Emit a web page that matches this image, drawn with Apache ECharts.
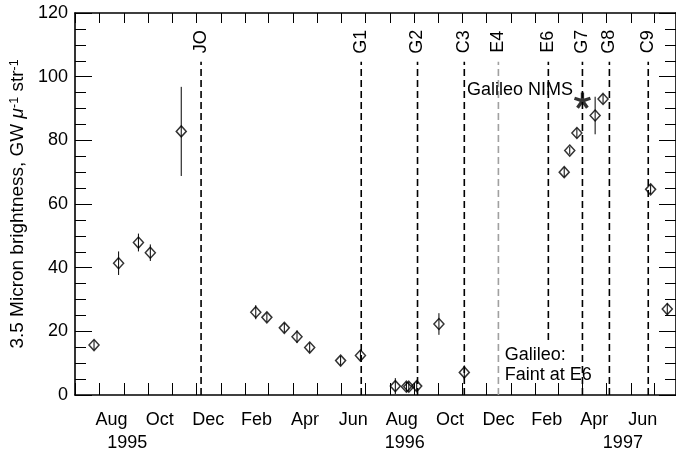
<!DOCTYPE html>
<html><head><meta charset="utf-8">
<script src="https://cdn.jsdelivr.net/npm/echarts@6/dist/echarts.min.js"></script>
<style>html,body{margin:0;padding:0;background:#fff}#c{width:676px;height:454px}</style>
</head><body><div id="c"></div>
<script>
// ---------- data ----------
const obsDates = ['1995-07-25','1995-08-25','1995-09-19','1995-10-04','1995-11-12',
  '1996-02-14','1996-02-28','1996-03-21','1996-04-06','1996-04-22','1996-05-31','1996-06-25',
  '1996-08-08','1996-08-22','1996-08-25','1996-09-04','1996-10-02','1996-11-03',
  '1997-03-09','1997-03-16','1997-03-25','1997-04-17','1997-04-27','1997-06-26','1997-07-17'];
const obsValues = [15.7, 41.4, 47.9, 44.7, 82.8,
  26.0, 24.4, 21.1, 18.3, 14.9, 10.8, 12.4,
  2.8, 2.6, 2.6, 2.8, 22.3, 7.1,
  70.0, 76.8, 82.3, 87.8, 93.0, 64.6, 27.0];
const obsErrors = [1.5, 3.7, 2.8, 2.6, 14,
  2.2, 1.5, 1.5, 2.0, 1.5, 1.5, 1.5,
  2.5, 1.5, 1.5, 1.5, 3.4, 2.2,
  1.5, 1.2, 1.5, 5.9, 1.5, 1.5, 1.8];
const encounterNames = ['JO','G1','G2','C3','E4','E6','G7','G8','C9'];
const encounterDates = ['1995-12-07','1996-06-26','1996-09-05','1996-11-03','1996-12-16',
  '1997-02-17','1997-04-01','1997-05-05','1997-06-23'];
const nimsDate = '1997-04-01';
const nimsValue = 92.5;
const monthLabels = ['Aug','Oct','Dec','Feb','Apr','Jun','Aug','Oct','Dec','Feb','Apr','Jun'];
const monthLabelDates = ['1995-08-16','1995-10-16','1995-12-16','1996-02-15','1996-04-16','1996-06-16',
  '1996-08-16','1996-10-16','1996-12-16','1997-02-15','1997-04-16','1997-06-16'];
const yearLabels = ['1995','1996','1997'];
const yearLabelDates = ['1995-09-05','1996-08-20','1997-05-22'];
const yTickValues = [0, 20, 40, 60, 80, 100, 120];

// ---------- helpers / layout ----------
const t = s => { const [y, m, d] = s.split('-').map(Number); return Date.UTC(y, m - 1, d); };
const xMin = t('1995-07-01'), xMax = t('1997-07-28');
const monthTicks = [];
for (let y = 1995, m = 6; ; m++) {
  if (m > 11) { m = 0; y++; }
  const v = Date.UTC(y, m, 1);
  if (v > xMax) break;
  monthTicks.push(v);
}
const monthMap = new Map(monthLabelDates.map((d, i) => [t(d), monthLabels[i]]));
const yearMap = new Map(yearLabelDates.map((d, i) => [t(d), yearLabels[i]]));
const FONT = "'Liberation Sans', Arial, Helvetica, sans-serif";
const lineTop = 104.7, labelLevel = 111, e6LineStart = 17.3;

const chart = echarts.init(document.getElementById('c'), null, {renderer: 'canvas'});
const axisLineStyle = {color: '#000', width: 1.6};
const option = {
  animation: false,
  backgroundColor: '#fff',
  grid: {left: 75, right: -3, top: 13, bottom: 59, containLabel: false},
  xAxis: [
    { type: 'value', position: 'bottom', min: xMin, max: xMax,
      axisLine: {show: true, onZero: false, lineStyle: axisLineStyle},
      axisTick: {show: true, inside: true, length: 12, customValues: monthTicks, lineStyle: {color: '#000', width: 1}},
      axisLabel: {show: true, customValues: monthLabelDates.map(t), formatter: v => monthMap.get(v) || '',
        margin: 16, fontSize: 18, color: '#000', fontFamily: FONT},
      splitLine: {show: false} },
    { type: 'value', position: 'top', min: xMin, max: xMax,
      axisLine: {show: true, onZero: false, lineStyle: axisLineStyle},
      axisTick: {show: true, inside: true, length: 10, customValues: monthTicks, lineStyle: {color: '#000', width: 1}},
      axisLabel: {show: false}, splitLine: {show: false} },
    { type: 'value', position: 'bottom', min: xMin, max: xMax,
      axisLine: {show: false}, axisTick: {show: false},
      axisLabel: {show: true, customValues: yearLabelDates.map(t), formatter: v => yearMap.get(v) || '',
        margin: 39, fontSize: 18, color: '#000', fontFamily: FONT},
      splitLine: {show: false} }
  ],
  yAxis: [
    { type: 'value', position: 'left', min: 0, max: 120, interval: 20,
      axisLine: {show: true, onZero: false, lineStyle: axisLineStyle},
      axisTick: {show: true, inside: true, length: 17, lineStyle: {color: '#000', width: 1}},
      minorTick: {show: true, splitNumber: 4, length: 11, lineStyle: {color: '#000', width: 1}},
      axisLabel: {margin: 7, fontSize: 18, color: '#000', fontFamily: FONT,
        formatter: v => yTickValues.includes(v) ? String(v) : ''},
      splitLine: {show: false},
      name: '3.5 Micron brightness, GW {mu|μ}{sup|-1} str{sup|-1}',
      nameLocation: 'middle', nameGap: 45, nameRotate: 90,
      nameTextStyle: {fontSize: 19, color: '#000', fontFamily: FONT, padding: [0, 0, 0, 0],
        rich: {
          mu: {fontSize: 19, fontStyle: 'italic', color: '#000', fontFamily: FONT},
          sup: {fontSize: 12.5, verticalAlign: 'top', color: '#000', fontFamily: FONT}
        }} },
    { type: 'value', position: 'right', min: 0, max: 120, interval: 20,
      axisLine: {show: true, onZero: false, lineStyle: axisLineStyle},
      axisTick: {show: true, inside: true, length: 17, lineStyle: {color: '#000', width: 1}},
      minorTick: {show: true, splitNumber: 4, length: 11, lineStyle: {color: '#000', width: 1}},
      axisLabel: {show: false}, splitLine: {show: false} }
  ],
  series: [
    { // encounter dashed lines + labels
      type: 'custom', xAxisIndex: 0, yAxisIndex: 0, silent: true, z: 1,
      data: encounterDates.map(d => [t(d)]),
      renderItem: (params, api) => {
        const name = encounterNames[params.dataIndex];
        const x = api.value(0);
        const p0 = api.coord([x, name === 'E6' ? e6LineStart : 0]);
        const p1 = api.coord([x, lineTop]);
        const pl = api.coord([x, labelLevel]);
        return {type: 'group', children: [
          {type: 'line', shape: {x1: p0[0], y1: p0[1], x2: p1[0], y2: p1[1]},
           style: {stroke: name === 'E4' ? '#a0a0a0' : '#000', lineWidth: 1.6, lineDash: [7, 4]}},
          {type: 'text', x: pl[0], y: pl[1], rotation: Math.PI / 2,
           style: {text: name, fontSize: 18, fontFamily: FONT, fill: '#000', align: 'center', verticalAlign: 'middle'}}
        ]};
      }
    },
    { // error bars
      type: 'custom', xAxisIndex: 0, yAxisIndex: 0, silent: true, z: 3,
      data: obsDates.map((d, i) => [t(d), obsValues[i], obsErrors[i]]),
      renderItem: (params, api) => {
        const x = api.value(0), v = api.value(1), e = api.value(2);
        const a = api.coord([x, v - e]), b = api.coord([x, v + e]);
        return {type: 'line', shape: {x1: a[0], y1: a[1], x2: b[0], y2: b[1]},
          style: {stroke: '#000', lineWidth: 1}};
      }
    },
    { // observations
      type: 'scatter', xAxisIndex: 0, yAxisIndex: 0, z: 4,
      symbol: 'diamond', symbolSize: [10, 11],
      itemStyle: {color: 'rgba(0,0,0,0)', borderColor: '#000', borderWidth: 1.5},
      data: obsDates.map((d, i) => [t(d), obsValues[i]])
    },
    { // Galileo NIMS star
      type: 'scatter', xAxisIndex: 0, yAxisIndex: 0, z: 5,
      symbol: 'path://M1.6,0L1.6,-8L-1.6,-8L-1.6,0Z M0.494,1.522L8.102,-0.95L7.114,-3.994L-0.494,-1.522Z M-1.294,0.941L3.408,7.413L5.996,5.531L1.294,-0.941Z M-1.294,-0.941L-5.996,5.531L-3.408,7.413L1.294,0.941Z M0.494,-1.522L-7.114,-3.994L-8.102,-0.95L-0.494,1.522Z M1.6,1.6L1.6,-1.6L-1.6,-1.6L-1.6,1.6Z',
      symbolKeepAspect: true, symbolSize: 17,
      itemStyle: {color: '#000'},
      data: [[t(nimsDate), nimsValue]]
    },
    { // annotations
      type: 'custom', xAxisIndex: 0, yAxisIndex: 0, silent: true, z: 6,
      data: [[t('1997-03-20'), 95.8], [t('1996-12-24'), 15.8]],
      renderItem: (params, api) => {
        const p = api.coord([api.value(0), api.value(1)]);
        if (params.dataIndex === 0) {
          return {type: 'text', x: p[0], y: p[1],
            style: {text: 'Galileo NIMS', fontSize: 18, fontFamily: FONT, fill: '#000', align: 'right', verticalAlign: 'middle'}};
        }
        return {type: 'text', x: p[0], y: p[1],
          style: {text: 'Galileo:\nFaint at E6', fontSize: 18, lineHeight: 20, fontFamily: FONT, fill: '#000', align: 'left', verticalAlign: 'top'}};
      }
    }
  ]
};
chart.setOption(option);
</script>
</body></html>
